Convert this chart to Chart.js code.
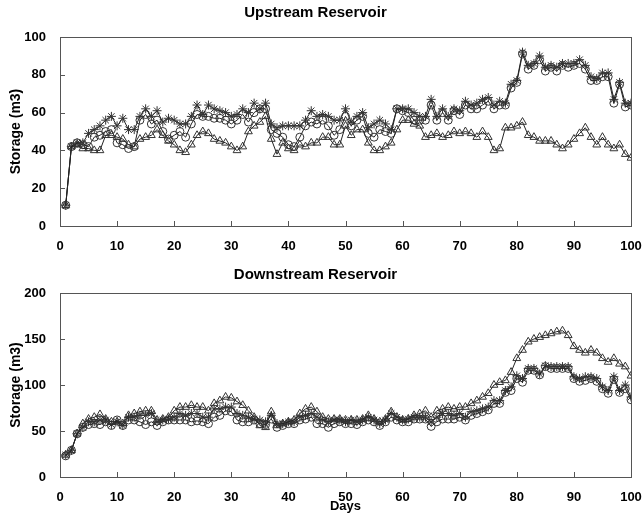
<!DOCTYPE html>
<html>
<head>
<meta charset="utf-8">
<script src="https://cdn.jsdelivr.net/npm/chart.js@4/dist/chart.umd.min.js"></script>
<style>
  body { margin: 0; background: #fff; }
  .wrap { position: absolute; left: 0; width: 642px; height: 257px; }
</style>
</head>
<body>
<div class="wrap" style="top:0"><canvas id="upChart" width="642" height="257"></canvas></div>
<div class="wrap" style="top:257px"><canvas id="downChart" width="642" height="257"></canvas></div>
<script>
// days 1..100
var days = [];
for (var i = 1; i <= 100; i++) days.push(i);

var upStar = [11,42,44,44,49,51,53,56,58,53, 57,51,51,58,62,58,61,55,57,56,
  54,54,58,64,59,64,62,61,60,58, 59,62,60,65,62,65,54,52,53,53,
  53,53,56,61,58,59,58,56,56,62, 55,58,60,52,54,56,54,51,62,62,
  62,60,58,58,67,58,62,58,62,61, 66,64,65,67,68,64,66,65,75,77,
  92,85,86,90,84,85,84,86,86,86, 88,85,79,78,81,81,67,76,65,65];
var upCircle = [11,42,44,43,42,47,48,50,51,44, 43,41,42,56,59,54,56,50,46,48,
  50,47,54,59,58,58,57,57,56,54, 56,59,55,60,62,62,51,49,47,43,
  42,47,53,55,54,56,53,48,51,58, 53,56,58,49,47,51,50,49,62,61,
  60,56,56,56,64,56,60,56,61,59, 64,62,62,64,66,62,64,64,73,76,
  91,83,85,88,82,84,82,85,84,85, 86,83,77,77,79,79,65,75,63,64];
var upTriangle = [11,42,43,41,41,40,40,48,48,47, 46,43,42,46,47,48,51,48,45,43,
  40,39,43,48,50,49,46,45,44,42, 40,42,50,53,55,58,46,38,44,41,
  40,43,42,44,44,47,47,43,43,53, 48,51,51,44,40,40,42,44,51,56,
  56,54,53,47,48,49,47,48,50,49, 50,49,47,50,47,40,41,52,52,53,
  55,48,47,45,45,45,43,41,43,46, 49,52,47,43,47,43,41,43,38,36];

var downStar = [24,29,47,54,60,60,62,62,57,60, 56,65,65,67,67,69,60,62,63,65,
  69,67,69,69,65,65,74,74,76,76, 69,67,65,63,62,60,67,58,58,60,
  60,65,67,69,65,62,60,62,62,60, 62,60,62,65,62,58,62,69,65,62,
  63,65,65,65,60,65,69,69,67,69, 65,71,72,74,76,83,83,94,98,110,
  107,118,118,112,121,120,120,120,120,109, 107,109,109,107,98,94,109,94,100,87];
var downCircle = [23,29,47,54,57,58,57,60,56,62, 56,62,62,60,57,60,56,60,62,62,
  62,62,60,61,60,58,65,67,72,71, 62,60,60,62,58,57,63,54,56,58,
  58,62,63,65,58,58,54,58,60,58, 58,57,60,62,60,56,60,65,62,60,
  60,63,63,63,55,60,63,63,63,65, 62,67,69,71,73,80,80,92,94,107,
  103,116,116,111,120,118,118,118,118,107, 104,105,107,104,96,91,106,92,96,84];
var downTriangle = [24,29,47,58,63,65,68,63,60,60, 58,67,69,71,72,72,62,63,65,72,
  76,76,78,76,76,72,80,83,87,86, 82,78,72,65,56,54,71,56,58,60,
  62,69,74,76,71,65,63,63,63,62, 62,62,63,67,63,60,63,71,65,62,
  63,67,69,72,65,72,74,76,74,76, 76,80,83,87,91,100,103,105,114,129,
  138,147,150,152,154,156,158,159,154,142, 138,135,138,135,129,125,129,123,120,110];

var xTicks = [0,10,20,30,40,50,60,70,80,90,100];
var upTicks = [0,20,40,60,80,100];
var downTicks = [0,50,100,150,200];

Chart.defaults.font.family = "'Liberation Sans', Arial, sans-serif";
Chart.defaults.font.weight = 'bold';
Chart.defaults.font.size = 12;
Chart.defaults.color = '#000';

var boxPlugin = {
  id: 'box',
  afterDraw: function(chart) {
    var a = chart.chartArea, ctx = chart.ctx;
    var xs = chart.scales.x, ys = chart.scales.y;
    ctx.save();
    ctx.strokeStyle = '#555';
    ctx.lineWidth = 1;
    ctx.strokeRect(Math.round(a.left) + 0.5, Math.round(a.top) + 0.5,
      Math.round(a.right - a.left), Math.round(a.bottom - a.top));
    ctx.beginPath();
    xs.ticks.forEach(function(t) {
      var px = Math.round(xs.getPixelForValue(t.value)) + 0.5;
      ctx.moveTo(px, a.bottom);
      ctx.lineTo(px, a.bottom - 5);
    });
    ys.ticks.forEach(function(t) {
      var py = Math.round(ys.getPixelForValue(t.value)) + 0.5;
      ctx.moveTo(a.left, py);
      ctx.lineTo(a.left + 5, py);
    });
    ctx.stroke();
    ctx.restore();
  }
};

function series(vals, style, r) {
  return {
    data: vals.map(function(v, i) { return { x: days[i], y: v }; }),
    borderColor: '#222',
    borderWidth: 1,
    pointStyle: style,
    pointRadius: r,
    pointBorderColor: '#333',
    pointBorderWidth: 1,
    pointBackgroundColor: 'rgba(0,0,0,0)',
    tension: 0
  };
}

function makeChart(id, title, titlePad, yMax, yTicks, xHeight, showDays, sets) {
  var ctx = document.getElementById(id).getContext('2d');
  return new Chart(ctx, {
    type: 'line',
    data: { datasets: sets },
    plugins: [boxPlugin],
    options: {
      responsive: false,
      animation: false,
      layout: { padding: { left: 0, right: 11, top: 0, bottom: 0 } },
      plugins: {
        legend: { display: false },
        tooltip: { enabled: false },
        title: {
          display: true,
          text: title,
          font: { size: 15, weight: 'bold' },
          color: '#000',
          padding: titlePad
        }
      },
      scales: {
        x: {
          type: 'linear',
          min: 0, max: 100,
          afterBuildTicks: function(s) { s.ticks = xTicks.map(function(v) { return { value: v }; }); },
          afterFit: function(s) { s.height = xHeight; s.paddingLeft = 0; s.paddingRight = 0; },
          grid: { display: false },
          border: { display: false },
          ticks: { padding: 5, maxRotation: 0, font: { size: 13, weight: 'bold' } },
          title: { display: showDays, text: 'Days', padding: 0, font: { size: 13, weight: 'bold' } }
        },
        y: {
          min: 0, max: yMax,
          afterBuildTicks: function(s) { s.ticks = yTicks.map(function(v) { return { value: v }; }); },
          afterFit: function(s) { s.width = 60; },
          grid: { display: false },
          border: { display: false },
          ticks: { padding: 6, font: { size: 13, weight: 'bold' } },
          title: { display: true, text: 'Storage (m3)', padding: 8, font: { size: 14, weight: 'bold' } }
        }
      }
    }
  });
}

makeChart('upChart', 'Upstream Reservoir', { top: 4, bottom: 15 }, 100, upTicks, 31, false, [
  series(upTriangle, 'triangle', 4.5),
  series(upCircle, 'circle', 4),
  series(upStar, 'star', 4.5)
]);

makeChart('downChart', 'Downstream Reservoir', { top: 9, bottom: 9 }, 200, downTicks, 37, true, [
  series(downTriangle, 'triangle', 4.5),
  series(downCircle, 'circle', 4),
  series(downStar, 'star', 4.5)
]);
</script>
</body>
</html>
